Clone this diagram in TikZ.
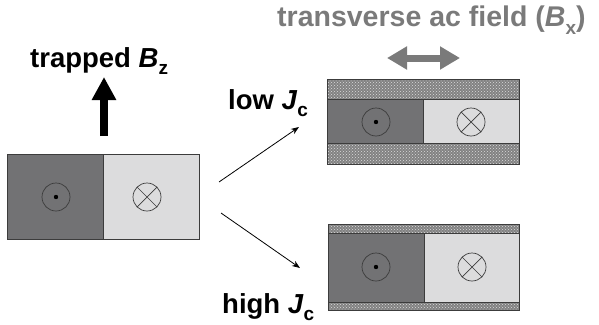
\documentclass[tikz,border=0pt]{standalone}
\usepackage{fontspec}
\setmainfont{Liberation Sans}
\usetikzlibrary{patterns,arrows.meta}

\definecolor{darkfill}{HTML}{727274}
\definecolor{lightfill}{HTML}{DCDCDD}
\definecolor{bandfill}{HTML}{828282}
\definecolor{labelgray}{HTML}{7A7A7A}
\definecolor{edge}{HTML}{3C3C3C}

% lowered subscript, scaled to the surrounding label
\newcommand{\lowsub}[1]{\raisebox{-0.28em}{\fontsize{19}{20}\selectfont #1}}

\tikzset{
  boxedge/.style={draw=edge, line width=0.9pt},
  darkpart/.style={fill=darkfill},
  lightpart/.style={fill=lightfill},
  bandpart/.style={fill=bandfill, postaction={pattern=crosshatch dots, pattern color=lightfill}},
  symline/.style={draw=edge, line width=0.7pt},
  lbl/.style={font=\bfseries\fontsize{27.5}{32}\selectfont, inner sep=0pt, anchor=base west},
  bigarrow/.style={line width=8pt, -{Triangle[length=23pt 0 0,width=23pt 0 0]}},
  acarrow/.style={draw=labelgray, line width=7pt, {Triangle[length=20pt 0 0,width=22pt 0 0]}-{Triangle[length=20pt 0 0,width=22pt 0 0]}},
  thinarrow/.style={line width=0.8pt, -{Stealth[length=8pt 0 0,width=6pt 0 0]}},
  outof/.pic={\draw[symline] (0,0) circle (14); \fill[black] (0,0) circle (2.2);},
  into/.pic={\draw[symline] (0,0) circle (14);
             \draw[symline] (-9.9,-9.9) -- (9.9,9.9) (-9.9,9.9) -- (9.9,-9.9);}
}

\begin{document}
\begin{tikzpicture}[x=1pt,y=-1pt]
\useasboundingbox (0,0) rectangle (599,324);

% sample before the field is applied
\fill[darkpart] (7,154) rectangle (103,239);
\fill[lightpart] (103,154) rectangle (199,239);
\draw[boxedge] (7,154) rectangle (199,239) (103,154) -- (103,239);
\pic at (56,197) {outof};
\pic at (147,197) {into};
\coordinate (upbase) at (104,136);
\coordinate (uptip) at (104,77);
\draw[bigarrow] (upbase) -- (uptip);
\node[lbl] (trapped) at (30,67) {trapped \textit{B}\lowsub{z}};

% low Jc case: wide bands
\fill[bandpart] (327,79) rectangle (519,99);
\fill[bandpart] (327,143) rectangle (519,164);
\fill[darkpart] (327,99) rectangle (423,143);
\fill[lightpart] (423,99) rectangle (519,143);
\draw[boxedge] (327,79) rectangle (519,164) (327,99) -- (519,99) (327,143) -- (519,143) (423,99) -- (423,143);
\pic at (376,122) {outof};
\pic at (471,122) {into};

% high Jc case: thin bands
\fill[bandpart] (328,224) rectangle (519,233);
\fill[bandpart] (328,302) rectangle (519,310);
\fill[darkpart] (328,233) rectangle (424,302);
\fill[lightpart] (424,233) rectangle (519,302);
\draw[boxedge] (328,224) rectangle (519,310) (328,233) -- (519,233) (328,302) -- (519,302) (424,233) -- (424,302);
\pic at (376,267) {outof};
\pic at (472,267) {into};

% applied ac field
\coordinate (acL) at (387,58);
\coordinate (acR) at (460,58);
\draw[acarrow] (acL) -- (acR);
\node[lbl, text=labelgray, font=\bfseries\fontsize{28.5}{33}\selectfont] (field) at (277,27) {transverse ac field (\textit{B}\lowsub{x})};

% branches
\coordinate (s1) at (219,182);
\coordinate (e1) at (299,127);
\coordinate (s2) at (221,213);
\coordinate (e2) at (300,268);
\draw[thinarrow] (s1) -- (e1);
\draw[thinarrow] (s2) -- (e2);
\node[lbl] (low) at (228,109) {low \textit{J}\lowsub{c}};
\node[lbl] (high) at (222,313) {high \textit{J}\lowsub{c}};
\end{tikzpicture}
\end{document}
